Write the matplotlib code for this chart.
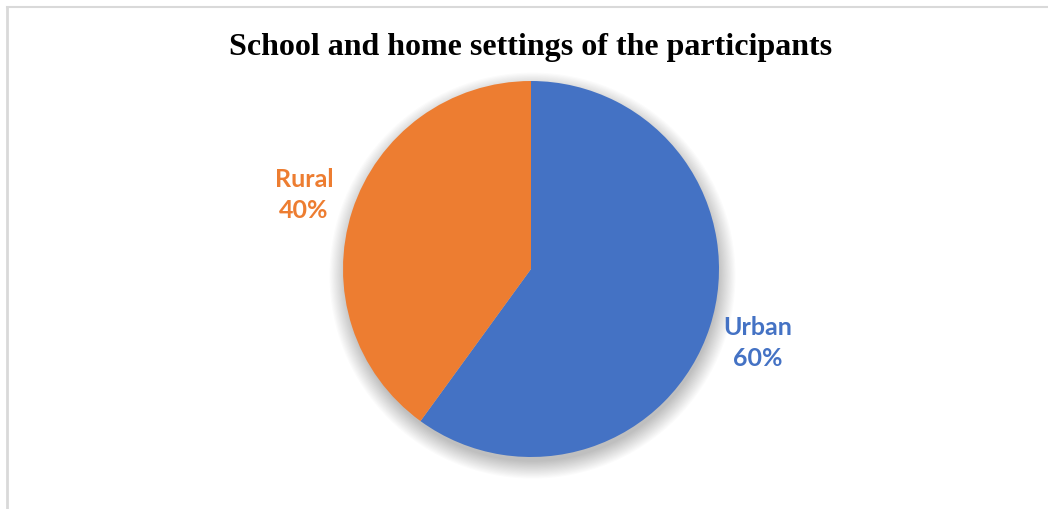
import numpy as np
import matplotlib.pyplot as plt
from matplotlib.patches import Circle

categories = ['Urban', 'Rural']
shares = [60, 40]
colors = ['#4472C4', '#ED7D31']
title = 'School and home settings of the participants'

fig = plt.figure(figsize=(10.48, 5.09), dpi=100)

# light grey chart frame (only left and top visible in the crop)
fig.add_artist(plt.Line2D([7/1048, 7/1048], [0, 1 - 7/509], color='#d9d9d9', lw=2))
fig.add_artist(plt.Line2D([7/1048, 1], [1 - 7/509, 1 - 7/509], color='#d9d9d9', lw=1.5))

cx, cy, r = 531, 509 - 269, 188
ax = fig.add_axes([(cx - r) / 1048, (cy - r) / 509, 2 * r / 1048, 2 * r / 509])

# soft drop shadow
for i in range(16):
    ax.add_patch(Circle((0.008, -0.035), 0.99 + 0.006 * i, color='black',
                        alpha=0.014, lw=0, zorder=0, clip_on=False))

labels = [f'{c}\n{v}%' for c, v in zip(categories, shares)]
wedges, texts = ax.pie(shares, colors=colors, startangle=90, counterclock=False,
                       labels=labels, labeldistance=1.27, radius=1,
                       wedgeprops=dict(linewidth=0, zorder=2))
for t, c in zip(texts, colors):
    t.set_color(c)
    t.set_fontfamily('Lato')
    t.set_fontweight('bold')
    t.set_fontsize(18)
    t.set_ha('center')
    t.set_va('center')
    t.set_linespacing(1.45)
    t.set_zorder(3)

ax.set_xlim(-1, 1)
ax.set_ylim(-1, 1)
ax.set_aspect('auto')
ax.axis('off')

fig.text(531/1048, 1 - 48/509, title, ha='center', va='center',
         fontfamily='Liberation Serif', fontweight='bold', fontsize=23)

fig.savefig('out.png', dpi=100)
